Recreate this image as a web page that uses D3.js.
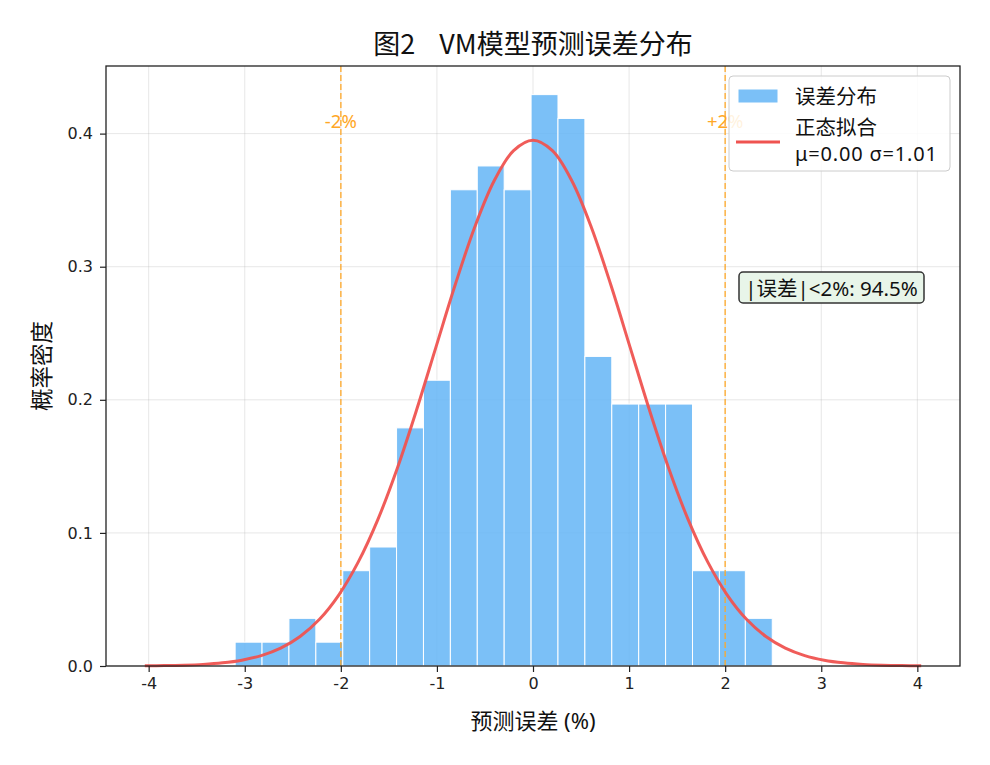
<!DOCTYPE html>
<html><head><meta charset="utf-8">
<script src="https://cdn.jsdelivr.net/npm/d3@7"></script>
<style>body{margin:0;background:#fff;} svg{display:block;font-family:"Noto Sans","Noto Sans CJK SC",sans-serif;}</style>
</head><body>
<svg id="c" width="990" height="765"></svg>
<script>
// Histogram bin edges (% error) and densities
const binEdges = [-3.10,-2.82,-2.54,-2.26,-1.98,-1.70,-1.42,-1.14,-0.86,-0.58,-0.30,-0.02,0.26,0.54,0.82,1.10,1.38,1.66,1.94,2.21,2.49];
const densities = [0.0179,0.0179,0.0358,0.0179,0.0716,0.0894,0.1789,0.2147,0.3578,0.3757,0.3578,0.4293,0.4114,0.2326,0.1968,0.1968,0.1968,0.0716,0.0716,0.0358];
// Fitted normal curve samples (x, density), symmetric about 0
const curveX = [0,0.202,0.404,0.606,0.808,1.010,1.212,1.414,1.616,1.818,2.020,2.222,2.424,2.626,2.828,3.030,3.232,3.434,3.636,3.838,4.040];
const curveY = [0.3950,0.3872,0.3646,0.3299,0.2868,0.2396,0.1923,0.1482,0.1098,0.0782,0.0535,0.0351,0.0222,0.01345,0.00784,0.00439,0.00236,0.00122,0.00061,0.00029,0.00013];
const xTicks = [-4,-3,-2,-1,0,1,2,3,4];
const yTicks = [0.0,0.1,0.2,0.3,0.4];
const thresholds = [-2, 2];
const thresholdLabels = ["-2%", "+2%"];
const titleText = "图2  VM模型预测误差分布";
const xLabel = "预测误差 (%)";
const yLabel = "概率密度";
const legendLabels = ["误差分布", "正态拟合", "μ=0.00 σ=1.01"];
const noteText = "|误差|<2%: 94.5%";

const svg = d3.select("#c");
const L = 106, R = 960, T = 66, B = 666;
const x = d3.scaleLinear().domain([-4.444, 4.444]).range([L, R]);
const y = d3.scaleLinear().domain([0, 0.4508]).range([B, T]);

// grid
const g = svg.append("g");
g.selectAll(".gx").data(xTicks).join("line")
  .attr("x1", d => x(d)).attr("x2", d => x(d)).attr("y1", T).attr("y2", B)
  .attr("stroke", "#b0b0b0").attr("stroke-opacity", 0.3).attr("stroke-width", 1);
g.selectAll(".gy").data(yTicks).join("line")
  .attr("x1", L).attr("x2", R).attr("y1", d => y(d)).attr("y2", d => y(d))
  .attr("stroke", "#b0b0b0").attr("stroke-opacity", 0.3).attr("stroke-width", 1);

// bars
const bins = densities.map((d, i) => ({x0: binEdges[i], x1: binEdges[i+1], v: d}));
svg.append("g").selectAll("rect").data(bins).join("rect")
  .attr("x", d => x(d.x0)).attr("width", d => x(d.x1) - x(d.x0))
  .attr("y", d => y(d.v)).attr("height", d => y(0) - y(d.v))
  .attr("fill", "#64B5F6").attr("fill-opacity", 0.85)
  .attr("stroke", "#ffffff").attr("stroke-width", 1);

// threshold lines
svg.append("g").selectAll("line").data(thresholds).join("line")
  .attr("x1", d => x(d)).attr("x2", d => x(d)).attr("y1", T).attr("y2", B)
  .attr("stroke", "#FFA726").attr("stroke-opacity", 0.8).attr("stroke-width", 1.6)
  .attr("stroke-dasharray", "6,3");
svg.append("g").selectAll("text").data(thresholds).join("text")
  .attr("x", d => x(d)).attr("y", y(0.41))
  .attr("text-anchor", "middle").attr("dominant-baseline", "central")
  .attr("fill", "#FFA726").attr("font-size", 18.5)
  .text((d, i) => thresholdLabels[i]);

// normal curve
const pts = curveX.slice(1).reverse().map((v, i) => [-v, curveY.slice(1).reverse()[i]])
  .concat(curveX.map((v, i) => [v, curveY[i]]));
svg.append("path").datum(pts)
  .attr("d", d3.line().x(d => x(d[0])).y(d => y(d[1])).curve(d3.curveCatmullRom))
  .attr("fill", "none").attr("stroke", "#EF5350").attr("stroke-opacity", 0.95).attr("stroke-width", 3);

// axes
const xAxis = svg.append("g").attr("transform", `translate(0,${B})`)
  .call(d3.axisBottom(x).tickValues(xTicks).tickSize(6).tickSizeOuter(0).tickFormat(d => String(d)));
const yAxis = svg.append("g").attr("transform", `translate(${L},0)`)
  .call(d3.axisLeft(y).tickValues(yTicks).tickSize(6).tickSizeOuter(0).tickFormat(d => d.toFixed(1)));
[xAxis, yAxis].forEach(a => {
  a.select(".domain").remove();
  a.selectAll(".tick line").attr("stroke", "#222").attr("stroke-width", 1.2);
  a.selectAll(".tick text").attr("font-size", 16).attr("fill", "#222")
    .attr("font-family", "'DejaVu Sans',sans-serif");
});
xAxis.selectAll(".tick text").attr("dy", "0.71em").attr("y", 12);
yAxis.selectAll(".tick text").attr("x", -13);
// frame
svg.append("rect").attr("x", L).attr("y", T).attr("width", R - L).attr("height", B - T)
  .attr("fill", "none").attr("stroke", "#222").attr("stroke-width", 1.3);

// labels
svg.append("text").attr("x", (L + R) / 2).attr("y", 54).attr("text-anchor", "middle")
  .style("white-space", "pre").attr("word-spacing", 6)
  .attr("font-family", "'Noto Sans CJK SC',sans-serif")
  .attr("font-size", 27).attr("fill", "#111").text(titleText);
svg.append("text").attr("x", (L + R) / 2).attr("y", 729).attr("text-anchor", "middle")
  .attr("font-size", 22).attr("fill", "#111").text(xLabel);
svg.append("text").attr("transform", `translate(50,${(T + B) / 2}) rotate(-90)`).attr("text-anchor", "middle")
  .attr("font-size", 22.5).attr("fill", "#111").text(yLabel);

// legend
const lg = svg.append("g");
lg.append("rect").attr("x", 729).attr("y", 76).attr("width", 221).attr("height", 95).attr("rx", 4)
  .attr("fill", "#fff").attr("fill-opacity", 0.85).attr("stroke", "#cccccc").attr("stroke-width", 1);
lg.append("rect").attr("x", 738).attr("y", 89).attr("width", 40).attr("height", 14)
  .attr("fill", "#64B5F6").attr("fill-opacity", 0.85).attr("stroke", "#fff");
lg.append("line").attr("x1", 736).attr("x2", 780).attr("y1", 142).attr("y2", 142)
  .attr("stroke", "#EF5350").attr("stroke-width", 3);
lg.append("text").attr("x", 795).attr("y", 104).attr("font-size", 20.5).attr("fill", "#111").text(legendLabels[0]);
lg.append("text").attr("x", 795).attr("y", 135).attr("font-size", 20.5).attr("fill", "#111").text(legendLabels[1]);
lg.append("text").attr("x", 795).attr("y", 161).attr("font-size", 20).attr("fill", "#111")
  .attr("letter-spacing", 0.8).text(legendLabels[2]);

// annotation
const ng = svg.append("g");
ng.append("rect").attr("x", 739).attr("y", 272).attr("width", 185).attr("height", 31).attr("rx", 4)
  .attr("fill", "#E8F5E9").attr("stroke", "#333").attr("stroke-width", 1.5);
ng.append("text").attr("x", 831.5).attr("y", 288).attr("text-anchor", "middle").attr("dominant-baseline", "central")
  .attr("font-size", 20.5).attr("fill", "#111").text(noteText);
</script>
</body></html>
